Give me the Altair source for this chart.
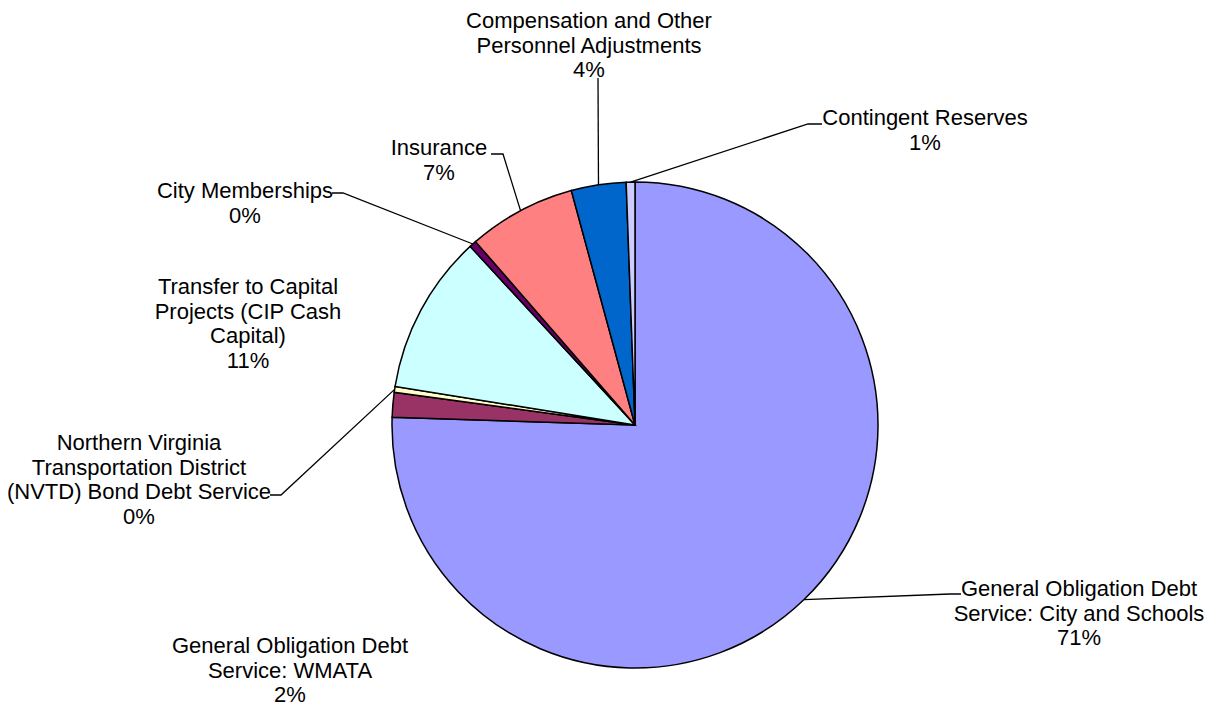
import altair as alt
import pandas as pd
import numpy as np

# ---- data ----
categories = [
    "General Obligation Debt Service: City and Schools",
    "General Obligation Debt Service: WMATA",
    "Northern Virginia Transportation District (NVTD) Bond Debt Service",
    "Transfer to Capital Projects (CIP Cash Capital)",
    "City Memberships",
    "Insurance",
    "Compensation and Other Personnel Adjustments",
    "Contingent Reserves",
]
shares = [75.5, 1.64, 0.39, 10.6, 0.47, 7.17, 3.64, 0.58]
pct_labels = ["71%", "2%", "0%", "11%", "0%", "7%", "4%", "1%"]
name_lines = [
    ["General Obligation Debt", "Service: City and Schools"],
    ["General Obligation Debt", "Service: WMATA"],
    ["Northern Virginia", "Transportation District", "(NVTD) Bond Debt Service"],
    ["Transfer to Capital", "Projects (CIP Cash", "Capital)"],
    ["City Memberships"],
    ["Insurance"],
    ["Compensation and Other", "Personnel Adjustments"],
    ["Contingent Reserves"],
]
colors = ["#9999FF", "#993366", "#FFFFCC", "#CCFFFF", "#660066", "#FF8080", "#0066CC", "#CCCCFF"]

# ---- layout (page pixels) ----
OFF = 8
PIE_CX, PIE_CY, PIE_R = 635, 425, 243
FONT_SIZE = 22
LINE_H = 24.5
label_pos = [(1079, 588), (290, 645), (139, 442), (248, 286),
             (245, 190), (439, 147), (589, 20), (925, 117)]
leader_pts = {
    0: [(950, 594), (961, 594)],
    2: [(281, 495), (270, 495)],
    4: [(343, 193), (332, 193)],
    5: [(503, 154), (491, 154)],
    6: [(598, 78)],
    7: [(808, 124), (822, 124)],
}

df = pd.DataFrame({"category": categories, "share": shares, "idx": range(len(categories))})

arc = alt.Chart(df).mark_arc(outerRadius=PIE_R, stroke="black", strokeWidth=1.5).encode(
    theta=alt.Theta("share:Q", stack=True),
    color=alt.Color("category:N", scale=alt.Scale(domain=categories, range=colors), legend=None),
    order=alt.Order("idx:Q", sort="ascending"),
    x=alt.value(PIE_CX - OFF),
    y=alt.value(PIE_CY - OFF),
)

# leader lines: start at mid-angle of each slice on the rim
total = float(np.sum(shares))
cum = np.cumsum(shares)
rows = []
for i, pts in leader_pts.items():
    mid = (cum[i] - shares[i] / 2) / total * 2 * np.pi
    ax = PIE_CX + PIE_R * np.sin(mid)
    ay = PIE_CY - PIE_R * np.cos(mid)
    path = [(ax, ay)] + pts
    for k, (px, py) in enumerate(path):
        rows.append({"lid": i, "k": k, "px": px - OFF, "py": py - OFF})
lead_df = pd.DataFrame(rows)

leaders = alt.Chart(lead_df).mark_line(color="black", strokeWidth=1.3).encode(
    x=alt.X("px:Q", scale=None, axis=None),
    y=alt.Y("py:Q", scale=None, axis=None),
    detail="lid:N",
    order="k:Q",
)

lab_df = pd.DataFrame({
    "text": ["\n".join(name_lines[i] + [pct_labels[i]]) for i in range(len(categories))],
    "lx": [p[0] - OFF for p in label_pos],
    "ly": [p[1] + 8 - OFF for p in label_pos],
})
labels = alt.Chart(lab_df).mark_text(
    align="center", baseline="alphabetic", lineBreak="\n", lineHeight=LINE_H,
    fontSize=FONT_SIZE, font="Liberation Sans", color="black",
).encode(
    x=alt.X("lx:Q", scale=None, axis=None),
    y=alt.Y("ly:Q", scale=None, axis=None),
    text="text:N",
)

chart = alt.layer(arc, leaders, labels).properties(
    width=1197, height=700,
    autosize=alt.AutoSizeParams(type="none"),
    padding=0,
).configure_view(strokeWidth=0)

chart.save("out.html", embed_options={"renderer": "svg", "actions": False})
